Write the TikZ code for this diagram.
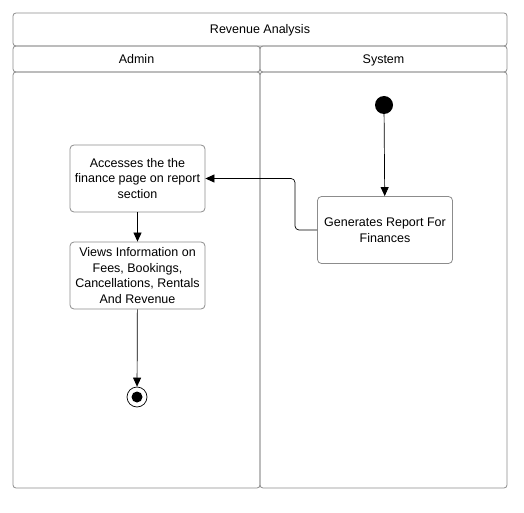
\documentclass[tikz,border=0pt]{standalone}
\usepackage{fontspec}
\setmainfont{Liberation Sans}
\usetikzlibrary{arrows.meta}
\begin{document}
\begin{tikzpicture}[x=1pt, y=-1pt, font=\fontsize{12.5}{15.5}\selectfont,
  lane/.style = {draw=black!45, line width=0.8pt, rounded corners=3pt, inner sep=0pt, text height=11pt, text depth=2pt},
  act/.style = {draw=black!45, line width=0.8pt, rounded corners=4pt, minimum width=135pt, minimum height=67pt, align=center, inner sep=1pt},
  flow/.style = {-{Triangle[width=8pt,length=9pt]}, line width=0.7pt}]
\useasboundingbox (0,0) rectangle (524,513);
% swimlanes
\node[lane, minimum width=494pt, minimum height=33pt] (title) at (260,29.5) {Revenue Analysis};
\node[lane, minimum width=247pt, minimum height=26pt] (admin) at (136.5,59) {Admin};
\node[lane, minimum width=247pt, minimum height=26pt] (system) at (383.5,59) {System};
\node[lane, minimum width=247pt, minimum height=416pt] (adminlane) at (136.5,280) {};
\node[lane, minimum width=247pt, minimum height=416pt] (systemlane) at (383.5,280) {};
% activities
\node[circle, fill=black, minimum size=18pt, inner sep=0pt] (start) at (384,105) {};
\node[act] (report) at (385,230) {Generates Report For\\Finances};
\node[act] (access) at (137.5,178.5) {Accesses the the\\finance page on report\\section};
\node[act] (views) at (137.5,275.5) {Views Information on\\Fees, Bookings,\\Cancellations, Rentals\\And Revenue};
\node[circle, draw=black, line width=0.7pt, minimum size=20pt, inner sep=0pt] (end) at (137,397) {};
\node[circle, fill=black, minimum size=11pt, inner sep=0pt] (enddot) at (137,397) {};
% flows
\draw[flow] (start) -- (report);
\draw[flow, rounded corners=4pt] (report.west) -- (295,230) -- (295,178.5) -- (access.east);
\draw[flow] (access) -- (views);
\draw[flow] (views) -- (end);
\end{tikzpicture}
\end{document}
